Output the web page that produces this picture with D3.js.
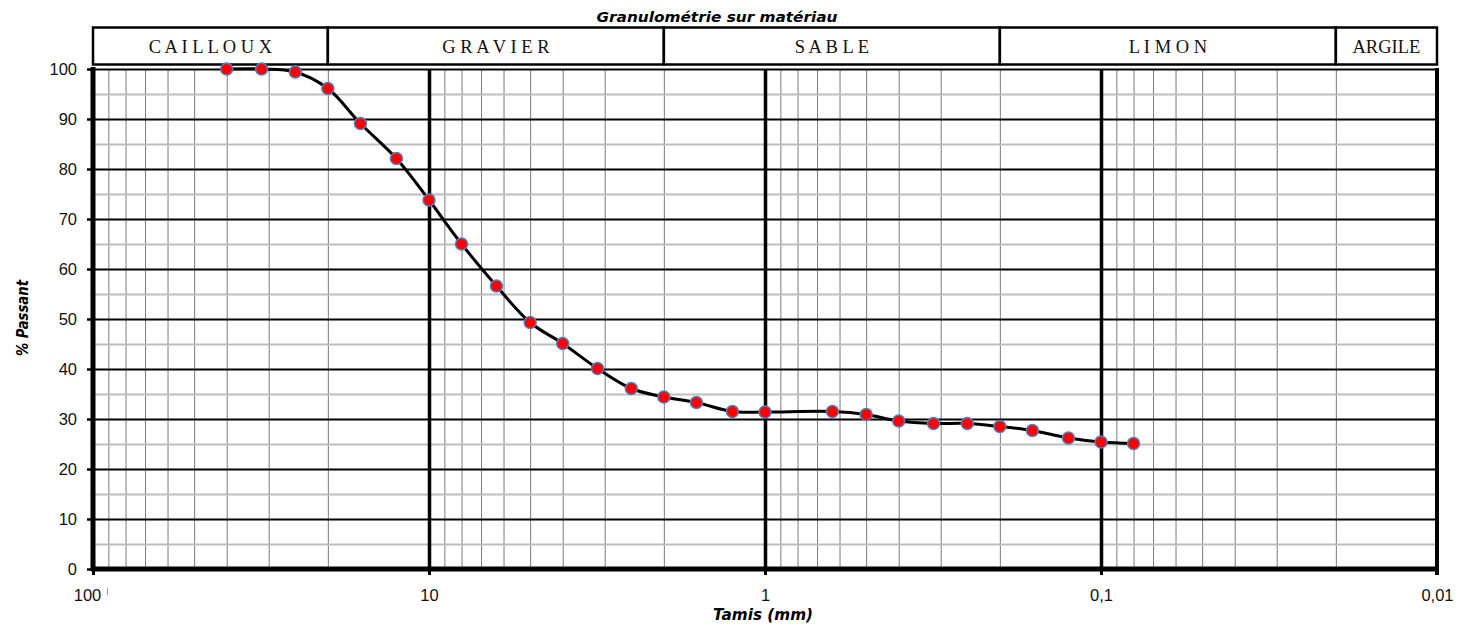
<!DOCTYPE html>
<html>
<head>
<meta charset="utf-8">
<script src="https://cdn.jsdelivr.net/npm/d3@7/dist/d3.min.js"></script>
<style>
  html, body { margin: 0; padding: 0; background: #fff; }
  svg { display: block; }
</style>
</head>
<body>
<svg id="chart" width="1473" height="628"></svg>
<script>
// ---- data ----
const sieves  = [40, 31.5, 25, 20, 16, 12.5, 10, 8, 6.3, 5, 4, 3.15, 2.5, 2, 1.6, 1.25, 1, 0.63, 0.5, 0.4, 0.315, 0.25, 0.2, 0.16, 0.125, 0.1, 0.08];
const passing = [100, 100, 99.4, 96.1, 89.1, 82.1, 73.8, 65.0, 56.6, 49.3, 45.1, 40.1, 36.1, 34.4, 33.3, 31.5, 31.4, 31.5, 30.9, 29.6, 29.1, 29.1, 28.5, 27.7, 26.2, 25.4, 25.1];
const xMajorTicks = [100, 10, 1, 0.1, 0.01];
const xTickLabels = ["100", "10", "1", "0,1", "0,01"];
const yMajorTicks = [0, 10, 20, 30, 40, 50, 60, 70, 80, 90, 100];
const yMinorTicks = [5, 15, 25, 35, 45, 55, 65, 75, 85, 95];
const zoneLabels = ["C A I L L O U X", "G R A V I E R", "S A B L E", "L I M O N", "ARGILE"];
const zoneBounds = [100, 20, 2, 0.2, 0.02, 0.01];
const chartTitle = "Granulométrie sur matériau";
const xTitle = "Tamis (mm)";
const yTitle = "% Passant";

// ---- layout ----
const L = 93, R = 1437, T = 69, B = 569;
const svg = d3.select("#chart");
const x = d3.scaleLog().domain([100, 0.01]).range([L, R]);
const y = d3.scaleLinear().domain([0, 100]).range([B, T]);

// minor vertical values: 2..9 x 10^k
const xMinor = [];
[0.01, 0.1, 1, 10].forEach(base => {
  for (let m = 2; m <= 9; m++) xMinor.push(+(m * base).toPrecision(3));
});

// vertical minor grid
svg.append("g")
  .attr("transform", `translate(0,${B})`)
  .call(d3.axisBottom(x).tickValues(xMinor).tickSize(-(B - T)).tickFormat(""))
  .call(g => g.select(".domain").remove())
  .call(g => g.selectAll(".tick line").attr("stroke", "#7a7a7a").attr("stroke-width", 1));

// horizontal minor grid
svg.append("g")
  .attr("transform", `translate(${L},0)`)
  .call(d3.axisLeft(y).tickValues(yMinorTicks).tickSize(-(R - L)).tickFormat(""))
  .call(g => g.select(".domain").remove())
  .call(g => g.selectAll(".tick line").attr("stroke", "#bdbdbd").attr("stroke-width", 2));

// horizontal major grid
svg.append("g")
  .attr("transform", `translate(${L},0)`)
  .call(d3.axisLeft(y).tickValues(yMajorTicks.filter(v => v > 0)).tickSize(-(R - L)).tickFormat(""))
  .call(g => g.select(".domain").remove())
  .call(g => g.selectAll(".tick line").attr("stroke", "#000").attr("stroke-width", 2));

// vertical major grid (10, 1, 0.1)
svg.append("g")
  .attr("transform", `translate(0,${B})`)
  .call(d3.axisBottom(x).tickValues([10, 1, 0.1]).tickSize(-(B - T)).tickFormat(""))
  .call(g => g.select(".domain").remove())
  .call(g => g.selectAll(".tick line").attr("stroke", "#000").attr("stroke-width", 3.5));

// right border
svg.append("line").attr("x1", R).attr("x2", R).attr("y1", T - 1).attr("y2", B + 6)
  .attr("stroke", "#000").attr("stroke-width", 4);

// y axis
const yAxis = svg.append("g")
  .attr("transform", `translate(${L},0)`)
  .call(d3.axisLeft(y).tickValues(yMajorTicks).tickSize(6).tickPadding(10).tickFormat(d3.format("d")));
yAxis.select(".domain").remove();
yAxis.selectAll(".tick line").attr("stroke", "#000").attr("stroke-width", 2.5);
yAxis.selectAll(".tick text")
  .attr("font-family", "Liberation Sans, Arial, sans-serif")
  .attr("font-size", 16.5).attr("fill", "#111");
svg.append("line").attr("x1", L).attr("x2", L).attr("y1", T - 2).attr("y2", B + 2)
  .attr("stroke", "#000").attr("stroke-width", 5);

// x axis
const xAxis = svg.append("g")
  .attr("transform", `translate(0,${B})`)
  .call(d3.axisBottom(x).tickValues(xMajorTicks).tickSize(6).tickPadding(14)
    .tickFormat((d, i) => xTickLabels[i]));
xAxis.select(".domain").remove();
xAxis.selectAll(".tick line").attr("stroke", "#000").attr("stroke-width", 3);
xAxis.selectAll(".tick text")
  .attr("font-family", "Liberation Sans, Arial, sans-serif")
  .attr("font-size", 16.5).attr("fill", "#111");
xAxis.selectAll(".tick").filter(d => d === 100).select("text").attr("dx", -6);
svg.append("line").attr("x1", L - 2).attr("x2", R + 2).attr("y1", B).attr("y2", B)
  .attr("stroke", "#000").attr("stroke-width", 5);
// small mark next to "100"
svg.append("line").attr("x1", 107.5).attr("x2", 107.5).attr("y1", 588).attr("y2", 595)
  .attr("stroke", "#999").attr("stroke-width", 1);

// header band (zones)
const hTop = 27.5, hBot = 64.5;
const zones = zoneLabels.map((lab, i) => ({ lab, a: zoneBounds[i], b: zoneBounds[i + 1] }));
const hg = svg.append("g");
hg.selectAll("rect").data(zones).join("rect")
  .attr("x", d => x(d.a)).attr("y", hTop)
  .attr("width", d => x(d.b) - x(d.a)).attr("height", hBot - hTop)
  .attr("fill", "#fff").attr("stroke", "#000").attr("stroke-width", 2.5);
hg.selectAll("text").data(zones).join("text")
  .attr("x", d => (x(d.a) + x(d.b)) / 2).attr("y", 53)
  .attr("text-anchor", "middle")
  .attr("font-family", "Liberation Serif, Times New Roman, serif")
  .attr("font-size", 18.5).attr("fill", "#111")
  .style("white-space", "pre")
  .text(d => d.lab);

// curve
const pts = sieves.map((s, i) => [x(s), y(passing[i])]);
svg.append("path")
  .attr("d", d3.line().curve(d3.curveCatmullRom.alpha(0.5))(pts))
  .attr("fill", "none").attr("stroke", "#000").attr("stroke-width", 3);

// markers
svg.append("g").selectAll("circle").data(sieves).join("circle")
  .attr("cx", d => x(d)).attr("cy", (d, i) => y(passing[i]))
  .attr("r", 6)
  .attr("fill", "#ff0000").attr("stroke", "#4f81bd").attr("stroke-width", 1.5);

// titles
svg.append("text").attr("x", 717).attr("y", 22)
  .attr("text-anchor", "middle")
  .attr("font-family", "Comic Sans MS, DejaVu Sans, sans-serif")
  .attr("font-size", 14.5).attr("font-weight", "bold").attr("font-style", "italic")
  .attr("textLength", 241).attr("lengthAdjust", "spacingAndGlyphs")
  .text(chartTitle);

svg.append("text").attr("x", 763).attr("y", 620)
  .attr("text-anchor", "middle")
  .attr("font-family", "Comic Sans MS, DejaVu Sans, sans-serif")
  .attr("font-size", 15).attr("font-weight", "bold").attr("font-style", "italic")
  .attr("textLength", 100).attr("lengthAdjust", "spacingAndGlyphs")
  .text(xTitle);

svg.append("text")
  .attr("transform", "translate(28,318) rotate(-90)")
  .attr("text-anchor", "middle")
  .attr("font-family", "Comic Sans MS, DejaVu Sans, sans-serif")
  .attr("font-size", 15).attr("font-weight", "bold").attr("font-style", "italic")
  .attr("textLength", 76).attr("lengthAdjust", "spacingAndGlyphs")
  .text(yTitle);
</script>
</body>
</html>
